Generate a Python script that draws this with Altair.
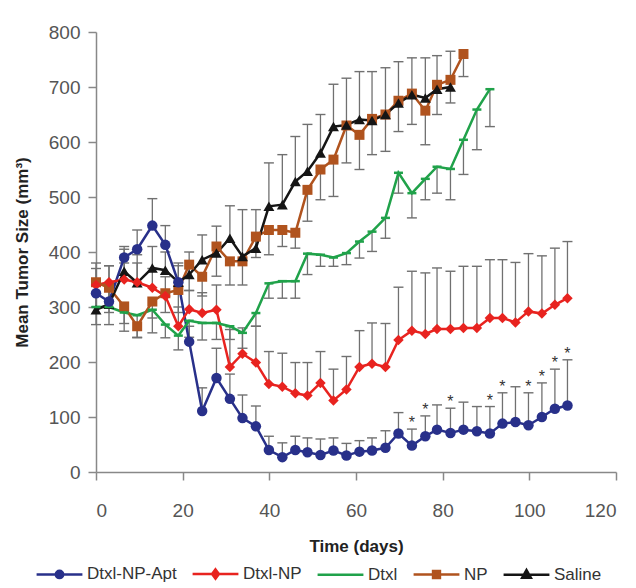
import altair as alt
import pandas as pd

FONT = "Liberation Sans"

days = [0, 3, 6.5, 9.5, 13, 16, 19, 21.5, 24.5, 27.8, 30.9, 33.8, 36.9, 39.9, 43, 46, 48.8,
        51.8, 54.8, 57.8, 60.8, 63.7, 66.8, 69.8, 72.9, 76, 78.7, 81.8, 84.8, 87.9, 90.9,
        93.8, 96.8, 99.8, 102.9, 105.9, 108.8]

series_names = ["Dtxl-NP-Apt", "Dtxl-NP", "Dtxl", "NP", "Saline"]
series_colors = ["#28308a", "#e8231f", "#20a24a", "#b0531e", "#151515"]

# Dtxl-NP-Apt (mean, upper error end)
apt_mean = [325, 310, 390, 405, 448, 413, 345, 237, 111, 171, 133, 98, 83, 40, 27, 40, 36, 31,
            39, 30, 37, 39, 44, 70, 48, 65, 77, 71, 77, 74, 70, 88, 91, 85, 100, 115, 121]
apt_end = [345, 340, 410, 440, 497, 448, 375, 265, 153, 225, 178, 140, 120, 65, 53, 65, 62, 60,
           62, 52, 57, 62, 75, 108, 78, 102, 122, 116, 127, 119, 119, 144, 155, 144, 162, 187, 204]

# Dtxl-NP (mean, upper error end)
dnp_mean = [340, 345, 350, 345, 335, 320, 265, 296, 289, 295, 191, 215, 199, 160, 155, 143, 139,
            162, 130, 150, 191, 197, 191, 240, 257, 251, 260, 260, 262, 262, 280, 280, 272, 292,
            288, 304, 316]
dnp_end = [370, 375, 380, 380, 370, 355, 300, 330, 326, 340, 259, 262, 265, 219, 216, 199, 199,
           219, 187, 210, 257, 271, 270, 336, 365, 362, 371, 365, 374, 374, 386, 386, 381, 397,
           393, 407, 419]

# Dtxl (mean, lower error end)
dtxl_mean = [300, 300, 290, 285, 295, 268, 248, 275, 271, 271, 265, 253, 289, 343, 347, 347, 397,
             395, 390, 398, 419, 437, 462, 544, 507, 533, 555, 551, 604, 659, 696]
dtxl_end = [268, 268, 256, 244, 253, 244, 222, 245, 240, 241, 241, 225, 265, 316, 316, 316, 359,
            374, 374, 377, 389, 401, 425, 507, 462, 495, 507, 495, 541, 586, 628]

# NP (mean, lower error end)
np_mean = [345, 335, 301, 265, 310, 325, 331, 377, 355, 410, 383, 383, 428, 440, 440, 435, 513,
           550, 568, 630, 613, 642, 650, 675, 688, 657, 704, 713, 760]
np_end = [300, 290, 270, 245, 280, 290, 290, 330, 320, 356, 340, 340, 390, 395, 410, 407, 456,
          495, 501, 562, 550, 577, 583, 619, 632, 595, 650, 671, 719]

# Saline (mean, upper error end)
sal_mean = [295, 305, 365, 344, 371, 367, 345, 359, 386, 398, 425, 392, 407, 483, 486, 528, 547,
            580, 628, 631, 641, 639, 650, 671, 686, 680, 696, 700]
sal_end = [380, 375, 405, 395, 410, 400, 380, 400, 431, 447, 484, 477, 477, 562, 577, 610, 632,
           650, 705, 716, 728, 728, 735, 746, 753, 753, 757, 765]

# days with significance stars on Dtxl-NP-Apt
star_days = [72.9, 76, 81.8, 90.9, 93.8, 99.8, 102.9, 105.9, 108.8]

x_ticks = [0, 20, 40, 60, 80, 100, 120]
y_ticks = [0, 100, 200, 300, 400, 500, 600, 700, 800]

rows = []
for name, means, ends in [("Dtxl-NP-Apt", apt_mean, apt_end), ("Dtxl-NP", dnp_mean, dnp_end),
                          ("Dtxl", dtxl_mean, dtxl_end), ("NP", np_mean, np_end),
                          ("Saline", sal_mean, sal_end)]:
    for d, m, e in zip(days, means, ends):
        rows.append({"series": name, "day": d, "mean": m, "end": e,
                     "star": bool(name == "Dtxl-NP-Apt" and d in star_days)})
df = pd.DataFrame(rows)

GREY = "#707070"
xaxis = alt.Axis(values=x_ticks, title="Time (days)", grid=False, labelFontSize=19,
                 labelPadding=21, titleX=260, titleY=74, titleBaseline="middle",
                 titleAlign="center")
yaxis = alt.Axis(values=y_ticks, title="Mean Tumor Size (mm³)", grid=False, labelFontSize=19,
                 labelPadding=8, titleX=-74, titleY=220, titleAngle=270, titleAlign="center",
                 titleBaseline="middle")
xs = alt.Scale(domain=[0, 120], nice=False)
ys = alt.Scale(domain=[0, 800], nice=False)
X = alt.X("day:Q", scale=xs, axis=xaxis)
Ymean = alt.Y("mean:Q", scale=ys, axis=yaxis)
Yend = alt.Y("end:Q", scale=ys, axis=yaxis)

base = alt.Chart(df)

bars = base.mark_rule(color=GREY, strokeWidth=1.3).encode(x=X, y=Ymean, y2=alt.Y2("end:Q"))
caps = base.mark_tick(orient="horizontal", size=10, thickness=1.4, color=GREY, opacity=1).encode(
    x=X, y=Yend)


def line(name, color):
    return base.transform_filter(alt.datum.series == name).mark_line(
        strokeWidth=2.5, color=color).encode(x=X, y=Ymean, order=alt.Order("day:Q"))


def pts(name, shape, color, size):
    return base.transform_filter(alt.datum.series == name).mark_point(
        shape=shape, filled=True, size=size, color=color, opacity=1).encode(x=X, y=Ymean)


lines = [line(n, c) for n, c in zip(series_names, series_colors)]
p_np = pts("NP", "square", series_colors[3], 100)
p_sal = pts("Saline", "triangle-up", series_colors[4], 120)
p_dnp = pts("Dtxl-NP", "diamond", series_colors[1], 110)
p_apt = pts("Dtxl-NP-Apt", "circle", series_colors[0], 110)
p_dtxl = base.transform_filter(alt.datum.series == "Dtxl").mark_tick(
    orient="horizontal", size=9, thickness=2.5, color=series_colors[2], opacity=1).encode(
    x=X, y=Ymean)

stars = base.transform_filter(alt.datum.star).mark_text(
    text="*", baseline="bottom", dy=2, fontSize=16, font=FONT, color="#333").encode(x=X, y=Yend)

paths = [
    "M-1,0L1,0M-0.16,0A0.16,0.16 0 1,0 0.16,0A0.16,0.16 0 1,0 -0.16,0Z",
    "M-1,0L1,0M0,-0.2L0.15,0L0,0.2L-0.15,0Z",
    "M-1,0L1,0",
    "M-1,0L1,0M-0.15,-0.15L0.15,-0.15L0.15,0.15L-0.15,0.15Z",
    "M-1,0L1,0M0,-0.2L0.19,0.14L-0.19,0.14Z",
]
leg = alt.Legend(title=None, orient="none", legendX=-61, legendY=517, direction="horizontal",
                 symbolSize=2100, symbolStrokeWidth=2.5, symbolOpacity=1, labelFont=FONT,
                 labelFontSize=17, labelColor="#333", columnPadding=10, labelOffset=3)
legend_layer = base.transform_filter("datum.day < 0").mark_point(
    filled=True, strokeWidth=2.5, opacity=1).encode(
    color=alt.Color("series:N", scale=alt.Scale(domain=series_names, range=series_colors),
                    legend=leg),
    stroke=alt.Stroke("series:N", scale=alt.Scale(domain=series_names, range=series_colors),
                      legend=leg),
    shape=alt.Shape("series:N", scale=alt.Scale(domain=series_names, range=paths), legend=leg),
)

chart = alt.layer(bars, caps, *lines, p_np, p_sal, p_dtxl, p_dnp, p_apt, stars,
                  legend_layer).properties(
    width=520, height=440,
    autosize=alt.AutoSizeParams(type="none"),
    padding={"left": 88, "top": 24, "right": 12, "bottom": 116},
).configure_view(stroke=None).configure_axis(
    domainColor="#888", domainWidth=1.5, tickColor="#888", tickWidth=1.5, tickSize=8,
    labelColor="#555", labelFont=FONT, titleFont=FONT, titleFontSize=17, titleFontWeight="bold",
    titleColor="#222",
)

chart.save("out.html", embed_options={"renderer": "svg", "actions": False})
